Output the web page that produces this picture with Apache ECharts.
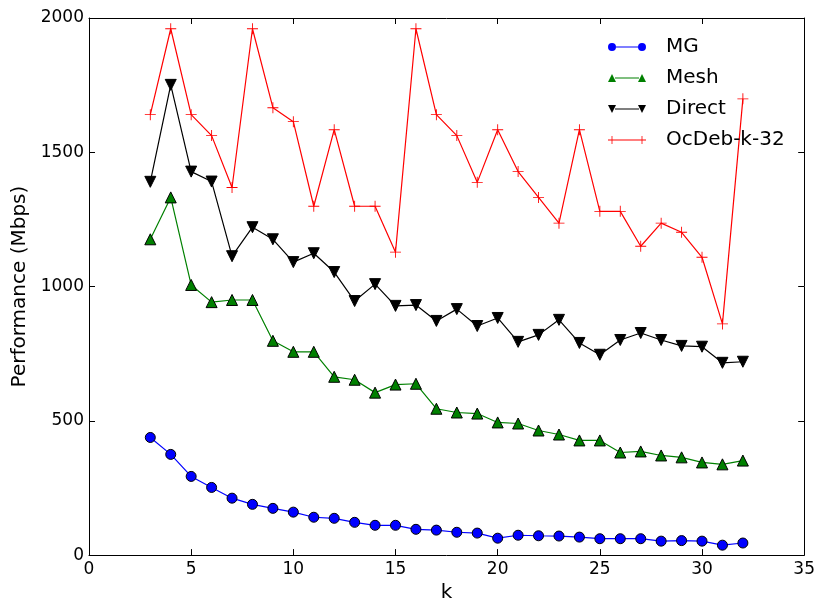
<!DOCTYPE html>
<html>
<head>
<meta charset="utf-8">
<script src="https://cdn.jsdelivr.net/npm/echarts@6/dist/echarts.min.js"></script>
<style>
  html, body { margin: 0; padding: 0; background: #fff; }
  #main { width: 818px; height: 608px; }
</style>
</head>
<body>
<div id="main"></div>
<script>
// k values and measured performance (Mbps)
var kValues = [3, 4, 5, 6, 7, 8, 9, 10, 11, 12, 13, 14, 15, 16, 17, 18, 19, 20, 21, 22, 23, 24, 25, 26, 27, 28, 29, 30, 31, 32];
var mgData = [438, 375, 293, 252, 212, 189, 174, 160, 141, 137, 122, 111, 111, 96, 93, 85, 82, 63, 74, 72, 71, 67, 61, 61, 61, 52, 54, 52, 37, 45];
var meshData = [1176, 1332, 1006, 942, 950, 950, 798, 757, 757, 664, 653, 605, 635, 638, 545, 531, 527, 494, 490, 464, 449, 427, 427, 382, 386, 371, 364, 345, 338, 352];
var directData = [1390, 1751, 1428, 1391, 1113, 1221, 1176, 1091, 1124, 1054, 946, 1009, 928, 931, 872, 916, 853, 883, 794, 820, 876, 790, 746, 801, 827, 801, 779, 776, 716, 720];
var ocdebData = [1640, 1960, 1640, 1562, 1369, 1960, 1666, 1614, 1299, 1584, 1299, 1299, 1128, 1960, 1640, 1562, 1388, 1584, 1428, 1332, 1236, 1584, 1280, 1280, 1150, 1236, 1202, 1109, 861, 1699];

function pairs(vals) {
    return kValues.map(function (k, i) { return [k, vals[i]]; });
}

var chart = echarts.init(document.getElementById('main'));

var fontFam = 'DejaVu Sans';
var plusPath = 'path://M4.6,0H5.4V4.6H10V5.4H5.4V10H4.6V5.4H0V4.6H4.6Z';

// legend icons: two markers joined by a line, like matplotlib's numpoints=2
var iconMG = 'path://M0,4a4,4 0 1,0 8,0a4,4 0 1,0 -8,0Z M30,4a4,4 0 1,0 8,0a4,4 0 1,0 -8,0Z M8,3.4H30V4.6H8Z';
var iconMesh = 'path://M0,8L4,0L8,8Z M30,8L34,0L38,8Z M7,3.4H31V4.6H7Z';
var iconDirect = 'path://M0,0L4,8L8,0Z M30,0L34,8L38,0Z M7,3.4H31V4.6H7Z';
var iconOc = 'path://M0,3.6H38V4.4H0Z M3.6,0H4.4V8H3.6Z M33.6,0H34.4V8H33.6Z';

function tickAxis(extra) {
    var base = {
        axisLine: { show: true, onZero: false, lineStyle: { color: '#000', width: 1 } },
        axisTick: { show: true, inside: true, length: 6, lineStyle: { color: '#000' } },
        splitLine: { show: false }
    };
    for (var key in extra) base[key] = extra[key];
    return base;
}

var option = {
    animation: false,
    backgroundColor: '#fff',
    grid: { left: 89, right: 10, top: 18, bottom: 51 },
    legend: {
        orient: 'vertical',
        left: 608,
        top: 37,
        padding: 0,
        itemWidth: 38,
        itemHeight: 8,
        itemGap: 11,
        textStyle: { fontFamily: fontFam, fontSize: 20, color: '#000', padding: [0, 0, 0, 15] },
        data: [
            { name: 'MG', icon: iconMG, itemStyle: { borderWidth: 0 } },
            { name: 'Mesh', icon: iconMesh, itemStyle: { borderWidth: 0 } },
            { name: 'Direct', icon: iconDirect, itemStyle: { borderWidth: 0 } },
            { name: 'OcDeb-k-32', icon: iconOc, itemStyle: { borderWidth: 0 } }
        ]
    },
    xAxis: [tickAxis({
        type: 'value', min: 0, max: 35, interval: 5, position: 'bottom',
        name: 'k', nameLocation: 'middle', nameGap: 27,
        nameTextStyle: { fontFamily: fontFam, fontSize: 20, color: '#000' },
        axisLabel: { fontFamily: fontFam, fontSize: 17, color: '#000', margin: 6 }
    }), tickAxis({
        type: 'value', min: 0, max: 35, interval: 5, position: 'top',
        axisLabel: { show: false }
    })],
    yAxis: [tickAxis({
        type: 'value', min: 0, max: 2000, interval: 500, position: 'left',
        name: 'Performance (Mbps)', nameLocation: 'middle', nameGap: 57,
        nameTextStyle: { fontFamily: fontFam, fontSize: 20, color: '#000' },
        axisLabel: { fontFamily: fontFam, fontSize: 17, color: '#000', margin: 5,
            formatter: function (v) { return String(v); } }
    }), tickAxis({
        type: 'value', min: 0, max: 2000, interval: 500, position: 'right',
        axisLabel: { show: false }
    })],
    series: [{
        name: 'MG', type: 'line', data: pairs(mgData),
        symbol: 'circle', symbolSize: 10,
        lineStyle: { color: '#0000ff', width: 1.2 },
        itemStyle: { color: '#0000ff', borderColor: '#000', borderWidth: 1 }
    }, {
        name: 'Mesh', type: 'line', data: pairs(meshData),
        symbol: 'triangle', symbolSize: 11,
        lineStyle: { color: '#008000', width: 1.2 },
        itemStyle: { color: '#008000', borderColor: '#000', borderWidth: 1 }
    }, {
        name: 'Direct', type: 'line', data: pairs(directData),
        symbol: 'triangle', symbolRotate: 180, symbolSize: 11,
        lineStyle: { color: '#000', width: 1.2 },
        itemStyle: { color: '#000', borderColor: '#000', borderWidth: 1 }
    }, {
        name: 'OcDeb-k-32', type: 'line', data: pairs(ocdebData),
        symbol: plusPath, symbolSize: 11,
        lineStyle: { color: '#ff0000', width: 1.2 },
        itemStyle: { color: '#ff0000', borderWidth: 0 }
    }]
};

chart.setOption(option);
</script>
</body>
</html>
